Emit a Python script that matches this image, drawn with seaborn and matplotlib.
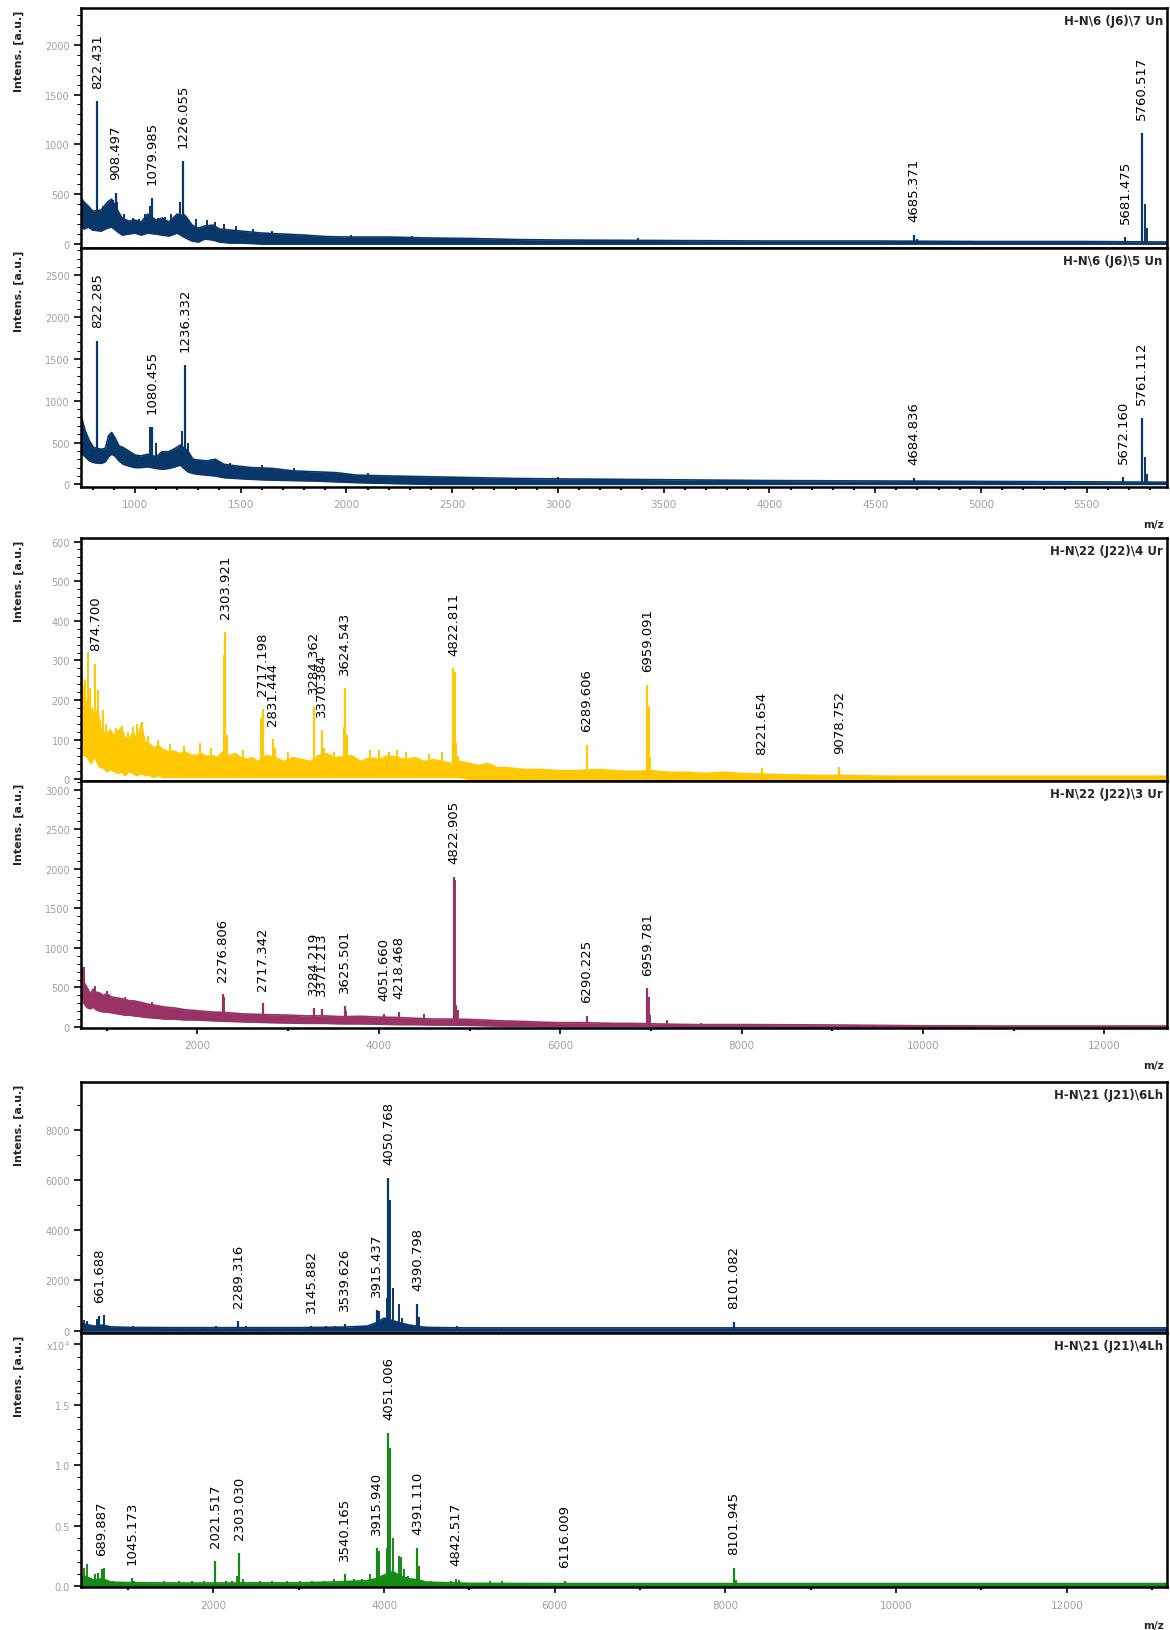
import numpy as np
import matplotlib
matplotlib.use('Agg')
import matplotlib.pyplot as plt
from matplotlib.ticker import MultipleLocator, FuncFormatter
import seaborn as sns

# ---------------- panel 1 : H-N\6 (J6)\7 Un ----------------
p1_env_mz = [742, 760, 780, 800, 840, 870, 890, 920, 940, 970, 1000, 1030, 1060, 1100, 1130, 1160, 1200, 1240,
             1270, 1300, 1330, 1370, 1400, 1450, 1500, 1600, 1700, 1800, 1900, 2000, 2200, 2400, 2600, 2800,
             3000, 3500, 4000, 4500, 5000, 5500, 5880]
p1_env_lo = [180, 150, 170, 140, 130, 160, 170, 120, 90, 100, 110, 90, 110, 100, 90, 80, 110, 60, 30, 20,
             50, 40, 20, 10, 10, 0, 0, 0, 0, 0, 0, 0, 0, 0, 0, 0, 0, 0, 0, 0, 0]
p1_env_hi = [470, 420, 380, 330, 340, 420, 450, 330, 260, 230, 240, 220, 300, 240, 260, 220, 300, 280, 190, 160,
             180, 190, 150, 140, 130, 110, 100, 90, 75, 70, 70, 60, 55, 45, 40, 35, 30, 30, 25, 25, 20]
p1_spk_mz = [760, 790, 830, 850, 897, 915, 950, 990, 1020, 1050, 1072, 1110, 1140, 1170, 1215, 1234, 1290,
             1340, 1380, 1420, 1480, 1560, 1650, 2020, 2310, 3380, 4700, 5775, 5785]
p1_spk_h = [420, 360, 330, 380, 440, 420, 300, 260, 250, 300, 380, 260, 270, 300, 420, 300, 250,
            240, 220, 200, 180, 150, 130, 90, 80, 60, 50, 400, 160]
p1_lab_mz = [822.431, 908.497, 1079.985, 1226.055, 4685.371, 5681.475, 5760.517]
p1_lab_h = [1430, 510, 460, 830, 90, 70, 1110]

# ---------------- panel 2 : H-N\6 (J6)\5 Un ----------------
p2_env_mz = [742, 752, 765, 785, 805, 840, 860, 875, 890, 905, 925, 945, 970, 1000, 1030, 1060, 1100, 1130,
             1160, 1190, 1215, 1250, 1275, 1300, 1340, 1380, 1420, 1480, 1550, 1650, 1750, 1850, 1950, 2050,
             2200, 2400, 2600, 2800, 3000, 3500, 4000, 4500, 5000, 5500, 5880]
p2_env_lo = [380, 360, 330, 280, 260, 250, 270, 330, 360, 340, 280, 240, 220, 200, 200, 210, 190, 180, 190, 210,
             230, 150, 130, 120, 110, 100, 80, 70, 60, 50, 45, 40, 30, 20, 10, 0, 0, 0, 0, 0, 0, 0, 0, 0, 0]
p2_env_hi = [850, 760, 640, 520, 440, 420, 430, 580, 620, 560, 460, 440, 400, 350, 340, 360, 330, 390, 390, 430,
             470, 400, 300, 290, 280, 300, 240, 220, 200, 190, 160, 150, 140, 110, 100, 90, 80, 70, 65, 55,
             45, 40, 35, 30, 25]
p2_spk_mz = [1072, 1100, 1130, 1160, 1225, 1250, 1380, 1450, 1600, 1750, 2100, 3000, 5775, 5785]
p2_spk_h = [680, 490, 400, 400, 640, 500, 300, 260, 230, 200, 130, 90, 330, 120]
p2_lab_mz = [822.285, 1080.455, 1236.332, 4684.836, 5672.160, 5761.112]
p2_lab_h = [1710, 690, 1430, 80, 90, 790]

# ---------------- panel 3 : H-N\22 (J22)\4 Ur ----------------
p3_env_mz = [715, 730, 745, 765, 800, 830, 860, 900, 930, 960,
             1000, 1040, 1080, 1120, 1160, 1200, 1250, 1290, 1330, 1380,
             1420, 1470, 1520, 1570, 1620, 1680, 1740, 1800, 1860, 1920,
             1980, 2040, 2100, 2160, 2220, 2280, 2350, 2420, 2480, 2540,
             2600, 2660, 2760, 2860, 2950, 3050, 3150, 3250, 3330, 3420,
             3520, 3700, 3800, 3900, 4000, 4100, 4200, 4300, 4400, 4500,
             4600, 4700, 4800, 4900, 5000, 5100, 5200, 5300, 5400, 5600,
             5800, 6000, 6200, 6400, 6600, 6800, 7000, 7200, 7400, 7600,
             7800, 8000, 8400, 8800, 9200, 9600, 10000, 11000, 12000, 12690]
p3_env_lo = [100, 80, 60, 60, 50, 40, 60, 40, 30, 30,
             20, 25, 20, 15, 20, 10, 20, 15, 10, 15,
             10, 10, 5, 10, 5, 5, 5, 5, 5, 5,
             5, 5, 5, 5, 5, 5, 5, 5, 5, 5,
             5, 5, 5, 5, 5, 5, 5, 5, 5, 5,
             5, 5, 5, 5, 5, 5, 5, 5, 5, 5,
             5, 5, 5, 5, 0, 0, 0, 0, 0, 0,
             0, 0, 0, 0, 0, 0, 0, 0, 0, 0,
             0, 0, 0, 0, 0, 0, 0, 0, 0, 0]
p3_env_hi = [275, 250, 190, 200, 180, 150, 170, 175, 130, 120,
             115, 125, 110, 120, 130, 105, 100, 120, 95, 140,
             95, 90, 80, 85, 75, 70, 72, 65, 70, 62,
             60, 65, 58, 60, 55, 70, 60, 65, 55, 50,
             55, 45, 60, 55, 45, 55, 50, 45, 60, 65,
             55, 60, 45, 55, 50, 60, 55, 50, 55, 45,
             50, 45, 40, 45, 40, 35, 40, 30, 30, 25,
             25, 22, 22, 25, 22, 20, 22, 18, 18, 15,
             18, 15, 12, 10, 10, 8, 8, 8, 8, 8]
p3_spk_mz = [725, 760, 790, 810, 840, 900, 930, 955, 990, 1100, 1166, 1230, 1292, 1330, 1385, 1450, 1560, 1700,
             1850, 2029, 2150, 2290, 2320, 2500, 2700, 2850, 3000, 3395, 3500, 3610, 3650, 3900, 4000, 4110,
             4199, 4300, 4550, 4700, 4835, 4850, 4870, 6300, 6975, 6990]
p3_spk_h = [275, 250, 322, 230, 180, 225, 150, 175, 140, 130, 135, 120, 133, 140, 145, 110, 100, 90,
            85, 91, 80, 313, 112, 75, 154, 80, 70, 80, 70, 133, 112, 75, 75, 70,
            74, 70, 65, 70, 270, 91, 60, 40, 183, 57]
p3_lab_mz = [874.700, 2303.921, 2717.198, 2831.444, 3284.362, 3370.384, 3624.543, 4822.811, 6289.606, 6959.091,
             8221.654, 9078.752]
p3_lab_h = [292, 372, 177, 101, 183, 124, 231, 280, 87, 238, 28, 32]

# ---------------- panel 4 : H-N\22 (J22)\3 Ur ----------------
p4_env_mz = [715, 722, 735, 750, 770, 790, 820, 850, 880, 920,
             960, 1000, 1050, 1100, 1150, 1200, 1250, 1300, 1380, 1450,
             1550, 1650, 1750, 1850, 1950, 2050, 2150, 2250, 2350, 2500,
             2650, 2800, 3000, 3200, 3400, 3600, 3800, 4000, 4200, 4400,
             4600, 4800, 5000, 5200, 5400, 5600, 5800, 6000, 6200, 6400,
             6600, 6800, 7000, 7200, 7500, 8000, 8500, 9000, 9500, 10000,
             11000, 12000, 12690]
p4_env_lo = [360, 380, 330, 300, 260, 240, 230, 250, 220, 200,
             190, 190, 180, 170, 160, 150, 150, 140, 130, 120,
             110, 100, 100, 90, 90, 85, 80, 75, 70, 65,
             60, 55, 50, 45, 45, 40, 40, 35, 30, 30,
             25, 25, 20, 15, 10, 10, 5, 5, 5, 5,
             5, 5, 5, 0, 0, 0, 0, 0, 0, 0,
             0, 0, 0]
p4_env_hi = [640, 760, 700, 560, 520, 480, 420, 480, 440, 430,
             400, 420, 380, 370, 360, 350, 330, 330, 310, 290,
             270, 250, 240, 220, 210, 200, 190, 185, 180, 165,
             160, 155, 150, 140, 140, 130, 135, 125, 120, 110,
             100, 100, 95, 85, 75, 70, 60, 55, 55, 50,
             45, 45, 40, 35, 30, 30, 28, 25, 20, 15,
             12, 12, 12]
p4_spk_mz = [753, 870, 1000, 1200, 1500, 2290, 3640, 4500, 4835, 4850, 4870, 6975, 6990, 7182, 7554, 12223]
p4_spk_h = [763, 520, 450, 380, 320, 380, 200, 160, 1864, 275, 212, 381, 150, 85, 51, 30]
p4_lab_mz = [2276.806, 2717.342, 3284.219, 3371.213, 3625.501, 4051.660, 4218.468, 4822.905, 6290.225, 6959.781]
p4_lab_h = [411, 297, 246, 233, 267, 169, 191, 1894, 140, 487]

# ---------------- panel 5 : H-N\21 (J21)\6Lh ----------------
p5_env_mz = [448, 500, 600, 700, 800, 1000, 1500, 2000, 2500, 3000, 3500, 3800, 3900, 4000, 4100, 4200, 4300,
             4400, 4500, 4700, 5000, 6000, 8000, 10000, 13175]
p5_env_lo = [0, 0, 0, 0, 0, 0, 0, 0, 0, 0, 0, 0, 0, 0, 0, 0, 0, 0, 0, 0, 0, 0, 0, 0, 0]
p5_env_hi = [300, 250, 180, 220, 150, 130, 120, 120, 120, 120, 140, 180, 300, 500, 400, 300, 220, 170, 130, 120,
             110, 110, 110, 110, 110]
p5_spk_mz = [484, 520, 610, 640, 713, 812, 1058, 1426, 1596, 1750, 1890, 2027, 2135, 2381, 2540, 2670, 2850,
             2990, 3320, 3430, 3660, 3730, 3800, 3861, 3940, 4031, 4075, 4100, 4175, 4210, 4260, 4415, 4550,
             4640, 4860, 5385]
p5_spk_h = [438, 372, 172, 450, 610, 106, 200, 106, 106, 106, 106, 200, 106, 200, 106, 106, 106, 106, 172, 172,
            200, 200, 200, 200, 770, 1300, 5215, 1698, 1061, 504, 239, 544, 106, 106, 172, 106]
p5_lab_mz = [661.688, 2289.316, 3145.882, 3539.626, 3915.437, 4050.768, 4390.798, 8101.082]
p5_lab_h = [600, 372, 200, 279, 809, 6077, 1061, 332]

# ---------------- panel 6 : H-N\21 (J21)\4Lh ----------------
p6_env_mz = [448, 500, 600, 700, 800, 1000, 1500, 2000, 2500, 3000, 3500, 3800, 3900, 4000, 4100, 4200, 4300,
             4400, 4500, 4700, 5000, 6000, 8000, 10000, 13175]
p6_env_lo = [0, 0, 0, 0, 0, 0, 0, 0, 0, 0, 0, 0, 0, 0, 0, 0, 0, 0, 0, 0, 0, 0, 0, 0, 0]
p6_env_hi = [700, 800, 500, 600, 320, 280, 250, 250, 260, 260, 350, 450, 600, 900, 1200, 800, 600, 500, 320,
             280, 220, 200, 200, 200, 200]
p6_spk_mz = [453, 484, 520, 556, 610, 650, 722, 825, 1070, 1190, 1426, 1596, 1750, 1890, 2150, 2220, 2278, 2350,
             2550, 2690, 2860, 3010, 3150, 3300, 3412, 3650, 3740, 3838, 3940, 3980, 4031, 4075, 4100, 4170,
             4195, 4230, 4280, 4415, 4550, 4780, 4880, 5237, 5385, 8125]
p6_spk_h = [829, 1519, 1850, 690, 967, 1100, 1491, 414, 400, 250, 414, 414, 414, 414, 414, 414, 829, 600, 414,
            450, 450, 450, 450, 450, 607, 607, 607, 967, 2900, 829, 3176, 11407, 4005, 2486, 2400, 1381, 800,
            1657, 414, 414, 500, 414, 414, 500]
p6_lab_mz = [689.887, 1045.173, 2021.517, 2303.030, 3540.165, 3915.940, 4051.006, 4391.110, 4842.517, 6116.009,
             8101.945]
p6_lab_h = [1381, 635, 2071, 2762, 967, 3121, 12650, 3121, 607, 414, 1519]

titles = ['H-N\\6 (J6)\\7 Un', 'H-N\\6 (J6)\\5 Un', 'H-N\\22 (J22)\\4 Ur', 'H-N\\22 (J22)\\3 Ur',
          'H-N\\21 (J21)\\6Lh', 'H-N\\21 (J21)\\4Lh']

NAVY = '#0a3769'
YELLOW = '#ffc800'
MAROON = '#993366'
GREEN = '#168a16'
GREY = '#a0a0a0'

sns.set_style('white')
plt.rcParams['font.family'] = ['DejaVu Sans']

fig = plt.figure(figsize=(11.7, 16.31), dpi=100)

# axes boxes (left, bottom, width, height) in figure fraction
L, W = 0.0692, 0.9282
boxes = [(L, 0.84733, W, 0.14715), (L, 0.70080, W, 0.14654),
         (L, 0.52054, W, 0.14899), (L, 0.36910, W, 0.15144),
         (L, 0.18210, W, 0.15389), (L, 0.02636, W, 0.15573)]

panels = [
    (p1_env_mz, p1_env_lo, p1_env_hi, p1_spk_mz, p1_spk_h, p1_lab_mz, p1_lab_h, NAVY, (-40, 2368), 500, 100),
    (p2_env_mz, p2_env_lo, p2_env_hi, p2_spk_mz, p2_spk_h, p2_lab_mz, p2_lab_h, NAVY, (-32, 2827), 500, 100),
    (p3_env_mz, p3_env_lo, p3_env_hi, p3_spk_mz, p3_spk_h, p3_lab_mz, p3_lab_h, YELLOW, (-4, 609), 100, 20),
    (p4_env_mz, p4_env_lo, p4_env_hi, p4_spk_mz, p4_spk_h, p4_lab_mz, p4_lab_h, MAROON, (-13, 3110), 500, 100),
    (p5_env_mz, p5_env_lo, p5_env_hi, p5_spk_mz, p5_spk_h, p5_lab_mz, p5_lab_h, NAVY, (-93, 9897), 2000, 1000),
    (p6_env_mz, p6_env_lo, p6_env_hi, p6_spk_mz, p6_spk_h, p6_lab_mz, p6_lab_h, GREEN, (-83, 20950), 5000, 1000),
]

# x settings per group: (xlim, major, minor)
groups = [((745, 5880), 500, 100), ((715, 12690), 2000, 1000), ((448, 13175), 2000, 1000)]


def y_fmt(v, pos):
    return f'{v:.0f}'


def y_fmt_e4(v, pos):
    if abs(v - 20000) < 1:
        return 'x10$^4$'
    return f'{v / 1e4:.1f}'


for i, (box, pan) in enumerate(zip(boxes, panels)):
    env_mz, env_lo, env_hi, spk_mz, spk_h, lab_mz, lab_h, color, ylim, ymaj, ymin_ = pan
    ax = fig.add_axes(box)
    (xlim, xmaj, xmin_) = groups[i // 2]

    # noisy baseline band
    ax.fill_between(env_mz, env_lo, env_hi, color=color, lw=0)
    sns.lineplot(x=env_mz, y=env_hi, color=color, lw=1.2, ax=ax, legend=False)
    sns.lineplot(x=env_mz, y=env_lo, color=color, lw=1.2, ax=ax, legend=False)
    # peaks rise from the bottom of the band
    ax.vlines(spk_mz, np.interp(spk_mz, env_mz, env_lo), spk_h, color=color, lw=1.4)
    ax.vlines(lab_mz, np.interp(lab_mz, env_mz, env_lo), lab_h, color=color, lw=1.6)
    for m, h in zip(lab_mz, lab_h):
        ax.annotate(f'{m:.3f}', xy=(m, h), xytext=(0, 10), textcoords='offset points',
                    rotation=90, ha='center', va='bottom', fontsize=9.5, color='black')

    ax.set_xlim(*xlim)
    ax.set_ylim(*ylim)
    ax.set_xlabel('')
    ax.set_ylabel('')

    ax.yaxis.set_major_locator(MultipleLocator(ymaj))
    ax.yaxis.set_minor_locator(MultipleLocator(ymin_))
    ax.yaxis.set_major_formatter(FuncFormatter(y_fmt_e4 if i == 5 else y_fmt))
    ax.tick_params(axis='y', which='major', left=True, length=5, width=1.2, color='black',
                   labelsize=7, labelcolor=GREY, pad=3)
    ax.tick_params(axis='y', which='minor', left=True, length=3, width=0.8, color='black')

    ax.xaxis.set_major_locator(MultipleLocator(xmaj))
    ax.xaxis.set_minor_locator(MultipleLocator(xmin_))
    ax.xaxis.set_major_formatter(FuncFormatter(y_fmt))
    if i % 2 == 1:
        ax.tick_params(axis='x', which='major', bottom=True, length=4, width=1.2, color='black',
                       labelsize=7.5, labelcolor=GREY, pad=5)
        ax.tick_params(axis='x', which='minor', bottom=True, length=2, width=1.5, color='black')
        ax.annotate('m/z', xy=(1, 0), xycoords='axes fraction', xytext=(-2, -27),
                    textcoords='offset points', ha='right', va='center', fontsize=7.5, fontweight='bold')
    else:
        ax.tick_params(axis='x', which='both', bottom=False, labelbottom=False)

    for sp in ax.spines.values():
        sp.set_color('black')
        sp.set_linewidth(1.8)

    ax.annotate(titles[i], xy=(1, 1), xycoords='axes fraction', xytext=(-3, -4),
                textcoords='offset points', ha='right', va='top', fontsize=8.5, fontweight='bold')
    ax.text(-0.057, 0.995, 'Intens. [a.u.]', transform=ax.transAxes, rotation=90,
            ha='center', va='top', fontsize=8, fontweight='bold')

fig.savefig('out.png', dpi=100)
